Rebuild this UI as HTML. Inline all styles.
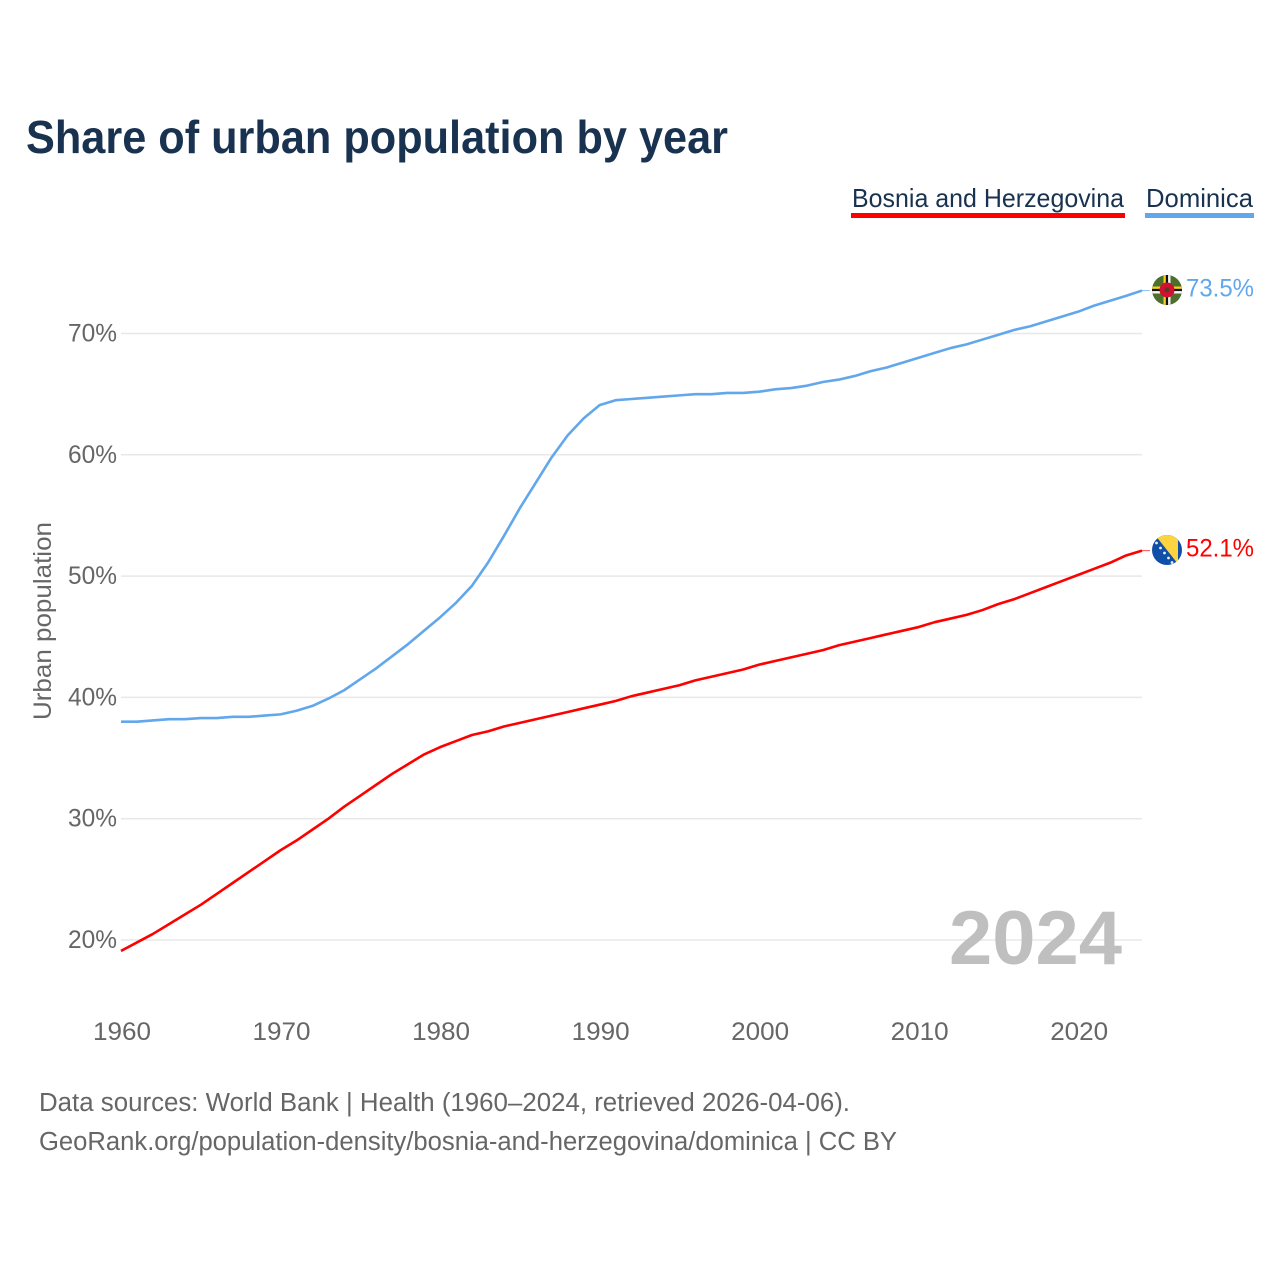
<!DOCTYPE html>
<html lang="en">
<head>
<meta charset="utf-8">
<title>Share of urban population by year</title>
<style>
html,body{margin:0;padding:0;background:#fff;width:1280px;height:1280px;overflow:hidden}
svg{display:block}
text{font-family:"Liberation Sans",sans-serif}
</style>
</head>
<body>
<svg id="chart" xmlns="http://www.w3.org/2000/svg" width="1280" height="1280" viewBox="0 0 1280 1280">
  <rect width="1280" height="1280" fill="#fff"/>
  <text x="26" y="153" font-size="46" font-weight="700" fill="#18324f" textLength="702" lengthAdjust="spacingAndGlyphs">Share of urban population by year</text>

  <g>
    <g>
      <text x="852" y="207" font-size="26" fill="#18324f" textLength="272" lengthAdjust="spacingAndGlyphs">Bosnia and Herzegovina</text>
      <rect x="851" y="213" width="274" height="5" fill="#ff0000"/>
    </g>
    <g>
      <text x="1146" y="207" font-size="26" fill="#18324f" textLength="107" lengthAdjust="spacingAndGlyphs">Dominica</text>
      <rect x="1145" y="213" width="109" height="5" fill="#62a7ec"/>
    </g>
  </g>

  <g id="grid"></g>
  <g id="yticks"></g>
  <g id="xticks"></g>

  <text transform="translate(51,621) rotate(-90)" text-anchor="middle" font-size="25" fill="#666" textLength="198" lengthAdjust="spacingAndGlyphs">Urban population</text>

  <text id="year-watermark" x="1122" y="964" text-anchor="end" font-size="76" font-weight="700" fill="#bfbfbf" textLength="173" lengthAdjust="spacingAndGlyphs"></text>

  <g id="series"></g>

  <defs>
    <clipPath id="clip-dominica"><circle cx="1167" cy="290" r="15"/></clipPath>
    <clipPath id="clip-bosnia"><circle cx="1167" cy="550" r="15"/></clipPath>
  </defs>

  <g id="flag-dominica" clip-path="url(#clip-dominica)">
    <rect x="1152" y="275" width="30" height="30" fill="#4c6f2b"/>
    <rect x="1163.5" y="275" width="2.4" height="30" fill="#f7d116"/>
    <rect x="1165.9" y="275" width="2.2" height="30" fill="#111"/>
    <rect x="1168.1" y="275" width="2.4" height="30" fill="#f4f4f4"/>
    <rect x="1152" y="286.5" width="30" height="2.4" fill="#f7d116"/>
    <rect x="1152" y="288.9" width="30" height="2.2" fill="#111"/>
    <rect x="1152" y="291.1" width="30" height="2.4" fill="#f4f4f4"/>
    <circle cx="1167" cy="290" r="7.5" fill="#d2102f"/>
    <circle cx="1167" cy="290" r="2.5" fill="#5b3a2a"/>
  </g>
  <g id="flag-bosnia" clip-path="url(#clip-bosnia)">
    <rect x="1152" y="535" width="30" height="30" fill="#0f4fa8"/>
    <polygon points="1155,535 1178,535 1178,564" fill="#fdd33f"/>
    <g fill="#e8edf5">
      <circle cx="1156.5" cy="543" r="1.4"/>
      <circle cx="1160.5" cy="548" r="1.4"/>
      <circle cx="1164.5" cy="553" r="1.4"/>
      <circle cx="1168.5" cy="558" r="1.4"/>
      <circle cx="1172" cy="562.5" r="1.4"/>
    </g>
  </g>

  <g id="end-labels"></g>

  <text x="39" y="1111" font-size="25.5" fill="#666" textLength="811" lengthAdjust="spacingAndGlyphs">Data sources: World Bank | Health (1960–2024, retrieved 2026-04-06).</text>
  <text x="39" y="1150" font-size="25.5" fill="#666" textLength="858" lengthAdjust="spacingAndGlyphs">GeoRank.org/population-density/bosnia-and-herzegovina/dominica | CC BY</text>
</svg>

<script>
const years = [1960,1961,1962,1963,1964,1965,1966,1967,1968,1969,1970,1971,1972,1973,1974,1975,1976,1977,1978,1979,1980,1981,1982,1983,1984,1985,1986,1987,1988,1989,1990,1991,1992,1993,1994,1995,1996,1997,1998,1999,2000,2001,2002,2003,2004,2005,2006,2007,2008,2009,2010,2011,2012,2013,2014,2015,2016,2017,2018,2019,2020,2021,2022,2023,2024];
const dominicaValues = [38.0,38.0,38.1,38.2,38.2,38.3,38.3,38.4,38.4,38.5,38.6,38.9,39.3,39.9,40.6,41.5,42.4,43.4,44.4,45.5,46.6,47.8,49.2,51.1,53.3,55.6,57.7,59.8,61.6,63.0,64.1,64.5,64.6,64.7,64.8,64.9,65.0,65.0,65.1,65.1,65.2,65.4,65.5,65.7,66.0,66.2,66.5,66.9,67.2,67.6,68.0,68.4,68.8,69.1,69.5,69.9,70.3,70.6,71.0,71.4,71.8,72.3,72.7,73.1,73.54];
const bosniaValues = [19.1,19.8,20.5,21.3,22.1,22.9,23.8,24.7,25.6,26.5,27.4,28.2,29.1,30.0,31.0,31.9,32.8,33.7,34.5,35.3,35.9,36.4,36.9,37.2,37.6,37.9,38.2,38.5,38.8,39.1,39.4,39.7,40.1,40.4,40.7,41.0,41.4,41.7,42.0,42.3,42.7,43.0,43.3,43.6,43.9,44.3,44.6,44.9,45.2,45.5,45.8,46.2,46.5,46.8,47.2,47.7,48.1,48.6,49.1,49.6,50.1,50.6,51.1,51.7,52.1];
const yTicks = [20,30,40,50,60,70];
const xTicks = [1960,1970,1980,1990,2000,2010,2020];

const NS = 'http://www.w3.org/2000/svg';
const xScale = function (year) { return 121 + (year - 1960) * (1142 - 121) / 64; };
const yScale = function (value) { return 940 - (value - 20) * 12.13; };

function make(tag, attrs, parent, content) {
  const el = document.createElementNS(NS, tag);
  Object.keys(attrs).forEach(function (k) { el.setAttribute(k, attrs[k]); });
  if (content !== undefined) el.textContent = content;
  parent.appendChild(el);
  return el;
}

const grid = document.getElementById('grid');
const yTickGroup = document.getElementById('yticks');
const xTickGroup = document.getElementById('xticks');
const seriesGroup = document.getElementById('series');
const endLabels = document.getElementById('end-labels');

yTicks.forEach(function (t) {
  const line = make('line', { x1: 121, x2: 1142, y1: yScale(t), y2: yScale(t), stroke: '#e8e8e8', 'stroke-width': 1.5 }, grid);
  
  
  const label = make('text', { x: 117, y: yScale(t) + 8, 'text-anchor': 'end', 'font-size': 25, fill: '#666', textLength: 49, lengthAdjust: 'spacingAndGlyphs' }, yTickGroup, t + '%');
  
  
});

xTicks.forEach(function (t) {
  const label = make('text', { x: xScale(t) + 1, y: 1040, 'text-anchor': 'middle', 'font-size': 25, fill: '#666', textLength: 58, lengthAdjust: 'spacingAndGlyphs' }, xTickGroup, String(t));
  
  
});

function drawSeries(values, color, key) {
  const last = values[values.length - 1];
  const d = values.map(function (v, i) {
    return (i ? 'L' : 'M') + xScale(years[i]).toFixed(2) + ' ' + yScale(v).toFixed(2);
  }).join(' ');
  const path = make('path', { d: d, fill: 'none', stroke: color, 'stroke-width': 2.6, 'stroke-linejoin': 'round' }, seriesGroup);
  
  
  const lastX = xScale(years[years.length - 1]);
  const connector = make('line', { x1: lastX, x2: lastX + 8, y1: yScale(last), y2: yScale(last), stroke: color, 'stroke-width': 1, opacity: 0.7 }, seriesGroup);
  
  
  const label = make('text', { x: 1254, y: yScale(last) + 6, 'text-anchor': 'end', 'font-size': 25, fill: color, textLength: 68, lengthAdjust: 'spacingAndGlyphs' }, endLabels, last.toFixed(1) + '%');
  
  
}

drawSeries(bosniaValues, '#ff0000', 'bosnia');
drawSeries(dominicaValues, '#62a7ec', 'dominica');

document.getElementById('year-watermark').textContent = String(years[years.length - 1]);
</script>
</body>
</html>
